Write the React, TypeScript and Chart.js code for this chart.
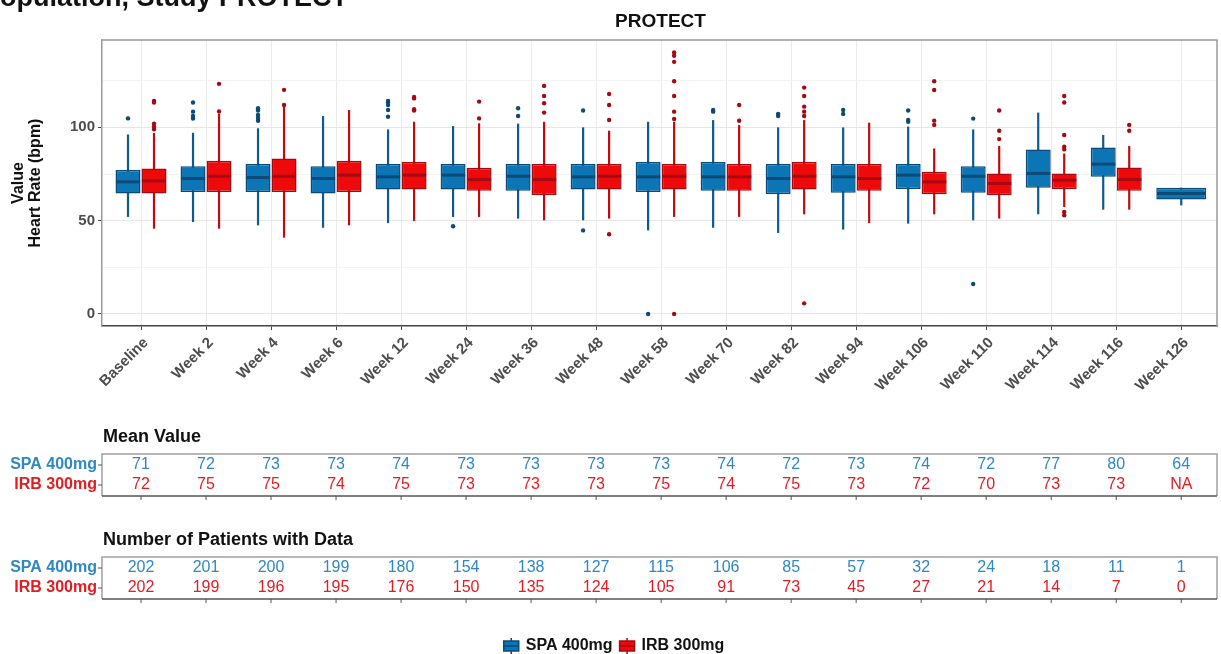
import { useEffect, useRef } from 'react';
import { Chart, registerables } from 'chart.js';

Chart.register(...registerables);

const FONT = '"Liberation Sans", Arial, Helvetica, sans-serif';

const CATEGORIES = ['Baseline', 'Week 2', 'Week 4', 'Week 6', 'Week 12', 'Week 24', 'Week 36', 'Week 48', 'Week 58', 'Week 70', 'Week 82', 'Week 94', 'Week 106', 'Week 110', 'Week 114', 'Week 116', 'Week 126'];
const GROUPS = ['SPA 400mg', 'IRB 300mg'];

// SPA 400mg box statistics
const SPA_WLOW = [52.0, 49.3, 47.5, 46.2, 48.7, 52.0, 51.1, 50.2, 44.8, 46.2, 43.4, 45.2, 48.4, 50.2, 53.4, 55.9, 58.2];
const SPA_Q1 = [64.5, 65.4, 65.4, 64.5, 66.7, 66.7, 66.0, 66.7, 65.4, 66.0, 64.2, 64.9, 67.0, 64.9, 67.7, 73.5, 61.3];
const SPA_MED = [70.8, 72.6, 73.1, 72.6, 73.5, 74.4, 73.8, 73.5, 73.5, 73.5, 72.6, 73.5, 74.4, 73.8, 75.3, 80.3, 64.5];
const SPA_Q3 = [77.1, 79.2, 80.3, 79.2, 80.3, 80.3, 80.3, 80.3, 81.5, 81.5, 80.3, 80.3, 80.3, 79.2, 88.2, 89.2, 67.7];
const SPA_WHIGH = [96.2, 97.1, 99.5, 106.1, 98.9, 100.7, 102.0, 100.0, 103.0, 103.9, 100.0, 100.0, 100.4, 98.9, 107.9, 95.9, 67.7];
const SPA_OUT = [
  [104.8],
  [104.7, 106.1, 108.4, 113.3],
  [103.5, 105.0, 106.6, 109.0, 110.2],
  [],
  [105.7, 109.3, 112.0, 113.3, 114.2],
  [47.0],
  [106.1, 110.2],
  [109.0, 44.8],
  [0],
  [108.4, 109.3],
  [106.1, 107.2],
  [107.2, 109.3],
  [103.0, 104.0, 109.0],
  [104.7, 16.1],
  [],
  [],
  [],
];

// IRB 300mg box statistics
const IRB_WLOW = [45.7, 45.7, 40.9, 47.5, 49.8, 52.0, 50.2, 51.1, 52.0, 52.0, 53.4, 48.7, 53.4, 51.1, 57.3, 55.9, null];
const IRB_Q1 = [64.5, 65.4, 65.4, 65.4, 66.7, 66.0, 63.6, 66.7, 66.7, 66.0, 66.7, 66.0, 64.2, 63.6, 66.8, 66.0, null];
const IRB_MED = [71.3, 73.8, 73.8, 74.4, 74.4, 72.0, 72.0, 73.8, 73.8, 73.5, 73.8, 72.6, 70.8, 69.9, 71.7, 72.0, null];
const IRB_Q3 = [78.0, 82.1, 83.3, 82.1, 81.4, 78.3, 80.3, 80.3, 80.3, 80.3, 81.5, 80.3, 76.2, 75.3, 75.3, 78.5, null];
const IRB_WHIGH = [97.0, 107.2, 111.1, 109.3, 103.0, 102.2, 103.0, 98.2, 103.0, 101.3, 103.9, 102.5, 88.7, 90.0, 86.0, 90.0, null];
const IRB_OUT = [
  [99.0, 100.5, 102.0, 113.3, 114.2],
  [108.5, 123.3],
  [112.0, 120.1],
  [],
  [109.0, 109.7, 115.5, 116.3],
  [104.8, 113.8],
  [107.9, 112.9, 116.8, 122.2],
  [103.9, 112.0, 117.9, 42.7],
  [104.5, 108.4, 116.8, 124.7, 135.1, 138.4, 140.1, 0],
  [103.5, 112.0],
  [106.1, 108.4, 111.1, 116.8, 121.3, 5.7],
  [],
  [101.3, 103.6, 120.0, 124.7],
  [93.7, 98.2, 109.0],
  [88.2, 89.6, 95.9, 113.3, 116.8, 54.7, 52.9],
  [98.2, 101.3],
  [],
];

// Tables
const MEAN_SPA = [71, 72, 73, 73, 74, 73, 73, 73, 73, 74, 72, 73, 74, 72, 77, 80, 64];
const MEAN_IRB = [72, 75, 75, 74, 75, 73, 73, 73, 75, 74, 75, 73, 72, 70, 73, 73, null];
const N_SPA = [202, 201, 200, 199, 180, 154, 138, 127, 115, 106, 85, 57, 32, 24, 18, 11, 1];
const N_IRB = [202, 199, 196, 195, 176, 150, 135, 124, 105, 91, 73, 45, 27, 21, 14, 7, 0];

const Y_TICKS = [0, 25, 50, 75, 100, 125];
const Y_LABELED = [0, 50, 100];

const CAT_PCT = 0.8;
const BAR_PCT = 0.96;
const DODGE = CAT_PCT / 4;

const BLUE = '#0c75b6';
const BLUE_DARK = '#0b4a76';
const BLUE_TEXT = '#2f87c4';
const RED = '#ee0a0a';
const RED_DARK = '#a50a12';
const RED_TEXT = '#e41b22';

const boxData = (lo: (number | null)[], hi: (number | null)[]) =>
  CATEGORIES.map((_, i) => ({ x: i, y: lo[i] == null || hi[i] == null ? null : [lo[i], hi[i]] }));
const medData = (m: (number | null)[]) =>
  CATEGORIES.map((_, i) => ({ x: i, y: m[i] == null ? null : [(m[i] as number) - 0.8, (m[i] as number) + 0.8] }));
const outData = (o: number[][], shift: number) =>
  o.flatMap((vals, i) => vals.map((v) => ({ x: i + shift, y: v })));

const extrasPlugin = {
  id: 'extras',
  afterDraw(chart: any) {
    const { ctx, chartArea: a, scales } = chart;
    const x = scales.x;
    ctx.save();

    // panel top/right border
    ctx.strokeStyle = '#9a9a9a';
    ctx.lineWidth = 1.5;
    ctx.beginPath();
    ctx.moveTo(a.left, a.top);
    ctx.lineTo(a.right, a.top);
    ctx.lineTo(a.right, a.bottom);
    ctx.stroke();

    // clipped header text
    ctx.fillStyle = '#111';
    ctx.font = `bold 27px ${FONT}`;
    ctx.textAlign = 'left';
    ctx.textBaseline = 'alphabetic';
    const pW = ctx.measureText('P').width;
    ctx.fillText('Population, Study PROTECT', -pW, 6);

    // panel title
    ctx.font = `bold 19px ${FONT}`;
    ctx.textAlign = 'center';
    ctx.textBaseline = 'middle';
    ctx.fillText('PROTECT', (a.left + a.right) / 2 + 1, 22);

    const right = a.right;
    const drawTable = (title: string, titleY: number, top: number, bottom: number, r1: (number | null)[], r2: (number | null)[]) => {
      ctx.fillStyle = '#111';
      ctx.font = `bold 18px ${FONT}`;
      ctx.textAlign = 'left';
      ctx.textBaseline = 'middle';
      ctx.fillText(title, a.left + 1, titleY);

      // borders
      ctx.lineWidth = 1.5;
      ctx.strokeStyle = '#a0a0a0';
      ctx.beginPath();
      ctx.moveTo(a.left, bottom);
      ctx.lineTo(a.left, top);
      ctx.lineTo(right, top);
      ctx.lineTo(right, bottom);
      ctx.stroke();
      ctx.strokeStyle = '#555';
      ctx.beginPath();
      ctx.moveTo(a.left, bottom);
      ctx.lineTo(right, bottom);
      ctx.stroke();

      const rowY = [top + 11, top + 31];
      ctx.strokeStyle = '#555';
      ctx.lineWidth = 1;
      rowY.forEach((ry, k) => {
        ctx.beginPath();
        ctx.moveTo(a.left - 4, ry);
        ctx.lineTo(a.left, ry);
        ctx.stroke();
        ctx.font = `bold 16px ${FONT}`;
        ctx.textAlign = 'right';
        ctx.fillStyle = k === 0 ? BLUE_TEXT : RED_TEXT;
        ctx.fillText(GROUPS[k], a.left - 5, ry);
      });
      CATEGORIES.forEach((_, i) => {
        const px = x.getPixelForValue(i);
        ctx.beginPath();
        ctx.moveTo(px, bottom);
        ctx.lineTo(px, bottom + 4);
        ctx.stroke();
      });
      ctx.font = `16px ${FONT}`;
      ctx.textAlign = 'center';
      CATEGORIES.forEach((_, i) => {
        const px = x.getPixelForValue(i);
        ctx.fillStyle = BLUE_TEXT;
        ctx.fillText(r1[i] == null ? 'NA' : String(r1[i]), px, rowY[0]);
        ctx.fillStyle = RED_TEXT;
        ctx.fillText(r2[i] == null ? 'NA' : String(r2[i]), px, rowY[1]);
      });
    };

    drawTable('Mean Value', 437, 454, 496, MEAN_SPA, MEAN_IRB);
    drawTable('Number of Patients with Data', 540, 557, 599, N_SPA, N_IRB);

    // legend
    const ly = 646;
    ctx.font = `bold 16px ${FONT}`;
    const w1 = ctx.measureText(GROUPS[0]).width;
    const w2 = ctx.measureText(GROUPS[1]).width;
    const glyph = 17;
    const total = glyph + 6 + w1 + 6 + glyph + 6 + w2;
    let lx = chart.width / 2 + 3 - total / 2;
    const drawGlyph = (gx: number, fill: string, dark: string) => {
      ctx.strokeStyle = dark;
      ctx.lineWidth = 1.5;
      ctx.beginPath();
      ctx.moveTo(gx + glyph / 2, ly - 8);
      ctx.lineTo(gx + glyph / 2, ly + 8);
      ctx.stroke();
      ctx.fillStyle = fill;
      ctx.fillRect(gx + 1, ly - 5, glyph - 2, 10);
      ctx.strokeRect(gx + 1, ly - 5, glyph - 2, 10);
      ctx.beginPath();
      ctx.moveTo(gx + 1, ly);
      ctx.lineTo(gx + glyph - 1, ly);
      ctx.stroke();
    };
    drawGlyph(lx, BLUE, BLUE_DARK);
    lx += glyph + 6;
    ctx.fillStyle = '#111';
    ctx.textAlign = 'left';
    ctx.textBaseline = 'middle';
    ctx.fillText(GROUPS[0], lx, ly);
    lx += w1 + 6;
    drawGlyph(lx, RED, RED_DARK);
    lx += glyph + 6;
    ctx.fillStyle = '#111';
    ctx.fillText(GROUPS[1], lx, ly);

    ctx.restore();
  },
};

export default function App() {
  const ref = useRef<HTMLCanvasElement | null>(null);

  useEffect(() => {
    document.body.style.margin = '0';
    const canvas = ref.current;
    if (!canvas) return;

    const common = { categoryPercentage: CAT_PCT, skipNull: true, borderSkipped: false };

    const chart = new Chart(canvas, {
      type: 'bar',
      data: {
        datasets: [
          { ...common, label: GROUPS[0], stack: 'spa', order: 1, data: boxData(SPA_Q1, SPA_Q3), barPercentage: BAR_PCT, backgroundColor: BLUE, borderColor: BLUE_DARK, borderWidth: 1.5 } as any,
          { ...common, label: GROUPS[1], stack: 'irb', order: 1, data: boxData(IRB_Q1, IRB_Q3), barPercentage: BAR_PCT, backgroundColor: RED, borderColor: RED_DARK, borderWidth: 1.5 } as any,
          { ...common, label: 'SPA median', stack: 'spa', order: 0, data: medData(SPA_MED), barPercentage: BAR_PCT * 0.97, backgroundColor: BLUE_DARK, borderWidth: 0 } as any,
          { ...common, label: 'IRB median', stack: 'irb', order: 0, data: medData(IRB_MED), barPercentage: BAR_PCT * 0.97, backgroundColor: RED_DARK, borderWidth: 0 } as any,
          { ...common, label: 'SPA whisker', stack: 'spa', order: 2, data: boxData(SPA_WLOW, SPA_WHIGH), barPercentage: 0.1, maxBarThickness: 2.2, backgroundColor: '#0d5a8e', borderWidth: 0 } as any,
          { ...common, label: 'IRB whisker', stack: 'irb', order: 2, data: boxData(IRB_WLOW, IRB_WHIGH), barPercentage: 0.1, maxBarThickness: 2.2, backgroundColor: '#c00a10', borderWidth: 0 } as any,
          { type: 'scatter', label: 'SPA outliers', order: 0, data: outData(SPA_OUT, -DODGE), pointRadius: 2.2, pointBorderWidth: 0, pointBackgroundColor: BLUE_DARK, backgroundColor: BLUE_DARK } as any,
          { type: 'scatter', label: 'IRB outliers', order: 0, data: outData(IRB_OUT, DODGE), pointRadius: 2.2, pointBorderWidth: 0, pointBackgroundColor: RED_DARK, backgroundColor: RED_DARK } as any,
        ],
      },
      options: {
        responsive: false,
        maintainAspectRatio: false,
        animation: false,
        devicePixelRatio: 1,
        events: [],
        layout: { padding: { left: 0, right: 0, top: 40, bottom: 248 } },
        plugins: {
          legend: { display: false },
          tooltip: { enabled: false },
          title: { display: false },
        },
        scales: {
          x: {
            type: 'linear',
            min: -0.6,
            max: CATEGORIES.length - 0.45,
            offset: false,
            afterBuildTicks: (s: any) => {
              s.ticks = CATEGORIES.map((_, i) => ({ value: i }));
            },
            afterFit: (s: any) => {
              s.height = 80;
              s.paddingLeft = 0;
              s.paddingRight = 0;
            },
            ticks: {
              autoSkip: false,
              minRotation: 45,
              maxRotation: 45,
              padding: 4,
              labelOffset: 5,
              color: '#4d4d4d',
              font: { family: FONT, size: 15, weight: 'bold' },
              callback: (v: any) => CATEGORIES[v] ?? '',
            },
            grid: { offset: false, color: '#ebebeb', lineWidth: 1, tickLength: 4, tickColor: '#444' },
            border: { color: '#444', width: 1.5 },
          } as any,
          y: {
            type: 'linear',
            min: -6.43,
            max: 146.8,
            stacked: false,
            beginAtZero: false,
            afterBuildTicks: (s: any) => {
              s.ticks = Y_TICKS.map((v) => ({ value: v }));
            },
            afterFit: (s: any) => {
              s.width = 102;
            },
            ticks: {
              padding: 3,
              color: '#4d4d4d',
              font: { family: FONT, size: 15, weight: 'bold' },
              callback: (v: any) => (Y_LABELED.includes(v) ? String(v) : ''),
            },
            grid: {
              color: (c: any) => (c.tick && Y_LABELED.includes(c.tick.value) ? '#e6e6e6' : '#f3f3f3'),
              tickColor: (c: any) => (c.tick && Y_LABELED.includes(c.tick.value) ? '#444' : 'rgba(0,0,0,0)'),
              tickLength: 4,
              lineWidth: 1,
            },
            border: { color: '#9a9a9a', width: 1.5 },
            title: {
              display: true,
              text: ['Value', 'Heart Rate (bpm)'],
              color: '#111',
              font: { family: FONT, size: 16, weight: 'bold', lineHeight: 1.05 },
              padding: { top: 10, bottom: 0 },
            },
          } as any,
        },
      },
      plugins: [extrasPlugin],
    } as any);

    return () => chart.destroy();
  }, []);

  return (
    <div style={{ width: 1221, height: 654, position: 'relative', background: '#fff' }}>
      <canvas ref={ref} width={1221} height={654} style={{ display: 'block' }} />
    </div>
  );
}
